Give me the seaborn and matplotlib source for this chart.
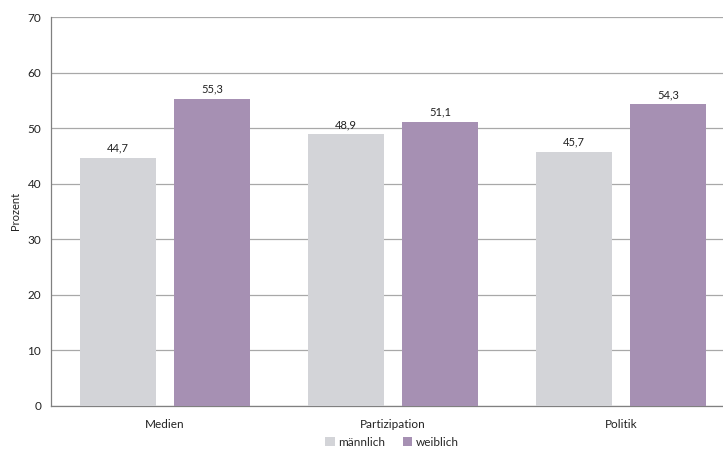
import matplotlib
matplotlib.use("Agg")
import matplotlib.pyplot as plt
import seaborn as sns
import pandas as pd
from matplotlib.patches import Patch

categories = ["Medien", "Partizipation", "Politik"]
maennlich = [44.7, 48.9, 45.7]
weiblich = [55.3, 51.1, 54.3]
series_names = ["männlich", "weiblich"]
colors = ["#d3d4d8", "#a690b3"]
yticks = [0, 10, 20, 30, 40, 50, 60, 70]

df = pd.DataFrame({
    "Kategorie": categories * 2,
    "Geschlecht": [series_names[0]] * 3 + [series_names[1]] * 3,
    "Prozent": maennlich + weiblich,
})

sns.set_theme(style="white")
plt.rcParams["font.family"] = ["Lato", "DejaVu Sans"]

fig = plt.figure(figsize=(7.23, 4.5), dpi=100)
ax = fig.add_axes([51 / 723, 1 - 406 / 450, 684 / 723, 389 / 450])

sns.barplot(data=df, x="Kategorie", y="Prozent", hue="Geschlecht",
            palette=colors, width=0.833, gap=0.2, ax=ax, legend=False,
            saturation=1, linewidth=0, zorder=3)

ax.set_xlim(-0.5, 2.5)
ax.set_ylim(0, 70)
ax.set_yticks(yticks)
ax.yaxis.grid(True, color="#a8a8a8", linewidth=0.9, zorder=0)
ax.set_axisbelow(True)
for s in ["top", "right"]:
    ax.spines[s].set_visible(False)
for s in ["left", "bottom"]:
    ax.spines[s].set_color("#808080")
    ax.spines[s].set_linewidth(0.9)
ax.tick_params(axis="y", length=0, labelsize=8.5, colors="#222222", pad=7)
ax.tick_params(axis="x", length=0, labelsize=8.5, colors="#222222", pad=9)
ax.set_xlabel("")
ax.set_ylabel("")
fig.text(16 / 723, 1 - 211 / 450, "Prozent", rotation=90, ha="center", va="center",
         fontsize=8, color="#222222")

for cont in ax.containers:
    labels = [f"{v:.1f}".replace(".", ",") for v in cont.datavalues]
    ax.bar_label(cont, labels=labels, padding=3, fontsize=8, color="#222222")

handles = [Patch(facecolor=c, edgecolor="none") for c in colors]
fig.legend(handles, series_names, loc="center", bbox_to_anchor=(392 / 723, 8 / 450),
           ncol=2, frameon=False, fontsize=8.5, handlelength=0.8, handleheight=0.8,
           handletextpad=0.3, columnspacing=1.5, borderpad=0)

fig.savefig("out.png", dpi=100)
